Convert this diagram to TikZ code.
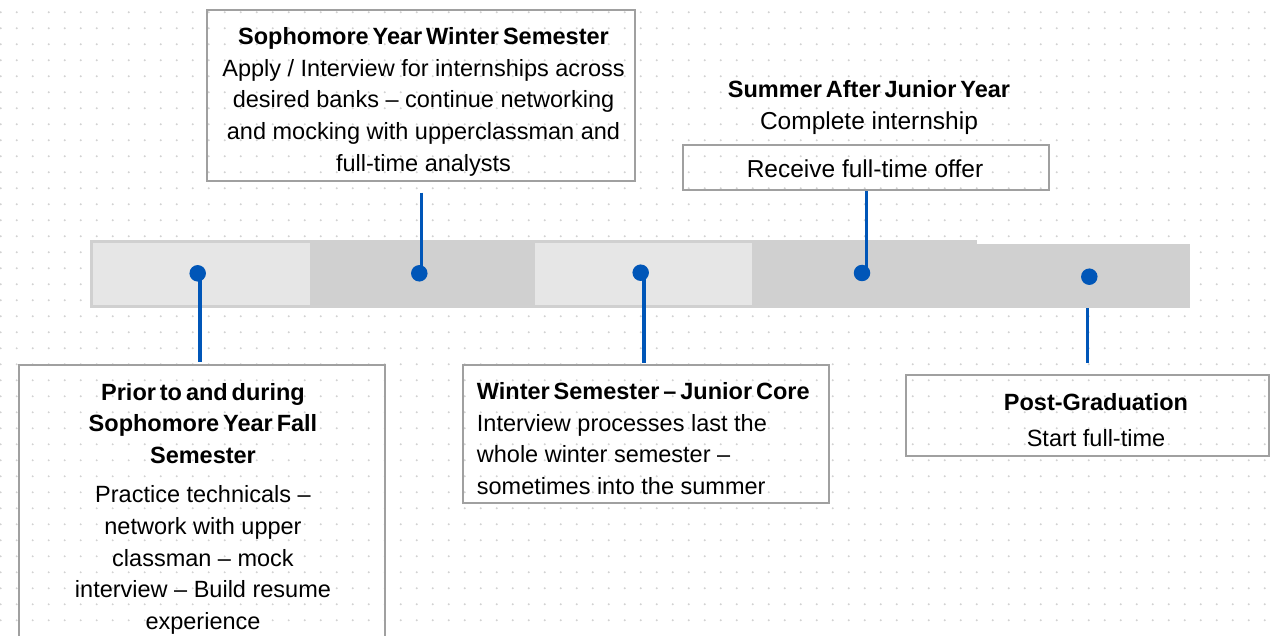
\documentclass[tikz,border=0pt]{standalone}
\usepackage{fontspec}
\setmainfont{Liberation Sans}[BoldFeatures={WordSpace=0.6}]
\definecolor{tlblue}{RGB}{0,86,184}
\definecolor{bardark}{RGB}{208,208,208}
\definecolor{barlight}{RGB}{230,230,230}
\definecolor{framegray}{RGB}{160,160,160}
\definecolor{dotgray}{RGB}{210,210,210}
\newcommand{\tstrut}{\rule{0pt}{17.5bp}}
\begin{document}
\begin{tikzpicture}[x=1bp,y=-1bp,
  frame/.style={draw=framegray, line width=2bp, inner sep=0pt},
  txt/.style={font=\fontsize{23.5bp}{31.7bp}\selectfont, inner sep=0pt, text=black},
  bigtxt/.style={txt, font=\fontsize{24.5bp}{31.7bp}\selectfont},
  conn/.style={draw=tlblue, line width=3.3bp},
  milestone/.style={circle, fill=tlblue, minimum size=16.5bp, inner sep=0pt},
  barpart/.style={inner sep=0pt, outer sep=0pt}]
\useasboundingbox (0,0) rectangle (1271,636);
\fill[white] (0,0) rectangle (1271,636);
% dot grid
\foreach \i in {0,...,79}{
  \foreach \j in {0,...,38}{
    \fill[dotgray] ({0.7+16*\i},{12.3+16*\j}) circle (1.1bp);
  }
}
% timeline bar
\node[barpart, fill=bardark, minimum width=887bp, minimum height=68.3bp] (bar) at (533.5,274.15) {};
\node[barpart, fill=barlight, minimum width=217bp, minimum height=62bp] (seg1) at (201.5,274) {};
\node[barpart, fill=barlight, minimum width=217bp, minimum height=62bp] (seg3) at (643.5,274) {};
\node[barpart, fill=bardark, minimum width=213bp, minimum height=64bp] (seg5) at (1083.5,276) {};
% boxes
\node[frame, minimum width=428bp, minimum height=171bp] (box2) at (421,95.5) {};
\node[frame, minimum width=365.7bp, minimum height=45.5bp] (box4) at (866.2,167.75) {};
\node[frame, minimum width=366bp, minimum height=280bp] (box1) at (202,505) {};
\node[frame, minimum width=366bp, minimum height=137.7bp] (box3) at (646,433.85) {};
\node[frame, minimum width=363bp, minimum height=81bp] (box5) at (1087.5,415.5) {};
% texts
\node[txt, align=center, anchor=north] (t2) at (423.5,26.8) {\tstrut\textbf{Sophomore Year Winter Semester}\\Apply / Interview for internships across\\desired banks – continue networking\\and mocking with upperclassman and\\full-time analysts};
\node[txt, align=center, anchor=north] (t4) at (869,79.8) {\tstrut\textbf{Summer After Junior Year}\\{\fontsize{24.5bp}{31.7bp}\selectfont Complete internship}};
\node[bigtxt, align=center, anchor=north] (t4b) at (865,159.3) {\tstrut Receive full-time offer};
\node[txt, align=center, anchor=north] (t1) at (203,382.5) {\tstrut\textbf{Prior to and during}\\\textbf{Sophomore Year Fall}\\\textbf{Semester}\\[7.3bp]Practice technicals –\\network with upper\\classman – mock\\interview – Build resume\\experience};
\node[txt, align=left, anchor=north west] (t3) at (476.7,381.8) {\tstrut\textbf{Winter Semester – Junior Core}\\Interview processes last the\\whole winter semester –\\sometimes into the summer};
\node[txt, align=center, anchor=north] (t5) at (1096,392.5) {\tstrut\textbf{Post-Graduation}\\[4.5bp]Start full-time};
% connectors
\coordinate (p1) at (197.7,273.3);
\coordinate (p2) at (419.3,273.3);
\coordinate (p3) at (640.7,272.7);
\coordinate (p4) at (862,273);
\coordinate (p5) at (1089.3,276.7);
\coordinate (c1) at (200,361.7);
\coordinate (c2) at (421.7,192.7);
\coordinate (c3) at (644,362.7);
\coordinate (c5) at (1087.7,362.7);
\draw[conn] (c1 |- p1) -- (c1);
\draw[conn] (c2) -- (c2 |- p2);
\draw[conn] (c3 |- p3) -- (c3);
\draw[conn] (box4.south) -- (box4.south |- p4);
\draw[conn] (c5 |- seg5.south) -- (c5);
\node[milestone] (m1) at (p1) {};
\node[milestone] (m2) at (p2) {};
\node[milestone] (m3) at (p3) {};
\node[milestone] (m4) at (p4) {};
\node[milestone] (m5) at (p5) {};
\end{tikzpicture}
\end{document}
